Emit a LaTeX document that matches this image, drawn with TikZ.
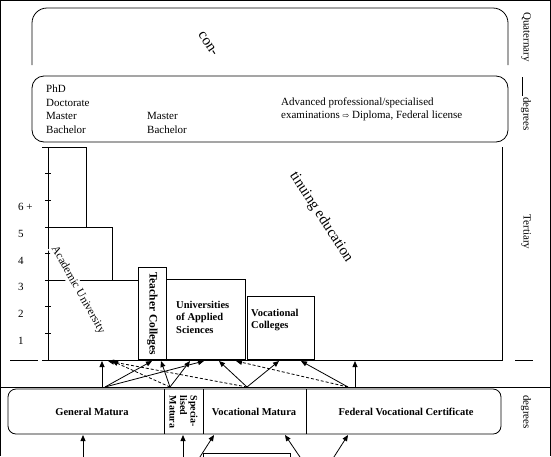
\documentclass[tikz,border=0pt]{standalone}
\usepackage{fontspec}
\setmainfont{Liberation Serif}
\newfontfamily\arrowfont{DejaVu Sans}
\usepackage{tikz}
\usetikzlibrary{arrows.meta,positioning}
\tikzset{
  line/.style={line width=0.8pt},
  box/.style={draw, line width=0.8pt},
  side/.style={rotate=-90, font=\fontsize{11}{13}\selectfont, inner sep=0pt},
  deg/.style={anchor=west, font=\fontsize{11}{13}\selectfont, inner sep=0pt},
  inst/.style={font=\fontsize{10.5}{12.3}\selectfont\bfseries, align=left, inner sep=0pt},
  cont/.style={rotate=-57, font=\fontsize{15}{17}\selectfont, inner sep=1pt},
  arrow/.style={-{Triangle[length=6pt,width=5pt]}, line width=0.8pt},
  darrow/.style={arrow, dash pattern=on 3pt off 2pt}
}

\begin{document}
\begin{tikzpicture}[x=1pt, y=-1pt]
  \useasboundingbox (0,0) rectangle (551,456);
  \clip (0,0) rectangle (551,456);
  % frame
  \draw[line] (0.5,456) -- (0.5,0.5) -- (550,0.5) -- (550,456);
  \draw[line] (0,387) -- (551,387);

  % quaternary and degrees
  \draw[line, rounded corners=15pt] (32,65) -- (32,8) -- (508,8) -- (508,65);
  \node[box, rounded corners=12pt, minimum width=476pt, minimum height=66pt] (degbox) at (270,109) {};
  \node[cont] (con) at (208,44) {con-};
  \node[deg] (phd) at (46,89) {PhD};
  \node[deg] (doc) at (46,102.5) {Doctorate};
  \node[deg] (ma1) at (46,116) {Master};
  \node[deg] (ba1) at (46,129.5) {Bachelor};
  \node[deg] (ma2) at (147,116) {Master};
  \node[deg] (ba2) at (147,129.5) {Bachelor};
  \node[deg] (adv) at (281,102.5) {Advanced professional/specialised};
  \node[deg] (exa) at (281,116) {examinations {\arrowfont\fontsize{8}{8}\selectfont ⇨} Diploma, Federal license};

  % side labels
  \node[side] (quat) at (526,37) {Quaternary};
  \draw[line] (522,77) -- (522,96);
  \node[side] (deg1) at (526,114) {degrees};
  \node[side] (tert) at (526,232) {Tertiary};
  \draw[line] (515,360) -- (533,360);
  \node[side] (deg2) at (526,412) {degrees};

  % tertiary
  \draw[line] (48,147.2) -- (48,360);
  \foreach \l in {1,...,7}
    \draw[line] (45,{360-26.6*\l}) -- (51,{360-26.6*\l});
  \foreach \l/\t in {1/1,2/2,3/3,4/4,5/5,6/6 +}
    \node[deg] at (18,{367-26.6*\l}) {\t};
  \draw[line] (10,360) -- (38,360);
  \draw[line] (42,360) -- (502,360) -- (502,147.2);
  \draw[line] (48,360) rectangle (138,280.2);
  \draw[line] (48,280.2) rectangle (112,227);
  \draw[line] (42,147.2) -- (86,147.2) -- (86,227);
  \node[rotate=-60.5, fill=white, inner sep=1pt, font=\fontsize{11.5}{13}\selectfont] (au) at (78,290) {Academic University};
  \node[box, minimum width=28pt, minimum height=92pt, anchor=south west] (tc) at (138,360) {};
  \node[inst, rotate=-90, font=\fontsize{11.5}{13}\selectfont\bfseries] at (tc) {Teacher Colleges};
  \node[box, minimum width=79pt, minimum height=79.8pt, anchor=south west] (uas) at (166,360) {};
  \node[inst, anchor=north west] at (176,301) {Universities\\of Applied\\Sciences};
  \node[box, minimum width=67pt, minimum height=63pt, anchor=south west] (vc) at (247,360) {};
  \node[inst, anchor=north west] at (251,309) {Vocational\\Colleges};
  \node[cont] (tin) at (321,217) {tinuing education};

  % maturas
  \node[box, rounded corners=8pt, minimum width=493pt, minimum height=45pt] (mat) at (254.5,411.5) {};
  \draw[line] (164,389) -- (164,434);
  \draw[line] (203,389) -- (203,434);
  \draw[line] (306,389) -- (306,434);
  \node[inst] (gm) at (92,412) {General Matura};
  \node[inst, rotate=-90, font=\fontsize{10}{10.5}\selectfont\bfseries] (sm) at (183.5,412) {Specia-\\lised\\Matura};
  \node[inst] (vm) at (254,412) {Vocational Matura};
  \node[inst] (fvc) at (406,412) {Federal Vocational Certificate};

  % connector ends
  \coordinate (s1) at (105,387);
  \coordinate (s1v) at (102,387);
  \coordinate (s2) at (170,387);
  \coordinate (s3) at (247,387);
  \coordinate (s4) at (348,387);
  \coordinate (s4v) at (355,387);
  \coordinate (au1) at (102,361);
  \coordinate (au2) at (108,361);
  \coordinate (au3) at (112,361);
  \coordinate (tc1) at (152,361);
  \coordinate (tc2) at (161,361);
  \coordinate (uas1) at (190,361);
  \coordinate (uas2) at (204,361);
  \coordinate (uas3) at (219,361);
  \coordinate (uas4) at (236,361);
  \coordinate (vc1) at (279,361);
  \coordinate (vc2) at (301,361);
  \coordinate (pe) at (355,361);

  \draw[arrow] (s1v) -- (au1);
  \draw[arrow] (s1) -- (tc1);
  \draw[arrow] (s1) -- (uas2);
  \draw[darrow] (s2) -- (au3);
  \draw[arrow] (s2) -- (tc2);
  \draw[arrow] (s2) -- (uas1);
  \draw[darrow] (s3) -- (au2);
  \draw[arrow] (s3) -- (uas3);
  \draw[arrow] (s3) -- (vc1);
  \draw[darrow] (s4) -- (uas4);
  \draw[arrow] (s4) -- (vc2);
  \draw[arrow] (s4v) -- (pe);

  % from below
  \coordinate (b1) at (83,470);
  \coordinate (b2) at (183,470);
  \coordinate (b3) at (191.6,470);
  \coordinate (b4) at (308.8,470);
  \coordinate (b5) at (325.6,470);
  \coordinate (gmb) at (83,435);
  \coordinate (smb) at (183,435);
  \coordinate (vmb1) at (214,435);
  \coordinate (vmb2) at (285,435);
  \coordinate (fvcb) at (348,435);
  \node[box, minimum width=87pt, minimum height=40pt, anchor=north west] (lsec) at (203,453) {};
  \draw[arrow] (b1) -- (gmb);
  \draw[arrow] (b2) -- (smb);
  \draw[arrow] (b3) -- (vmb1);
  \draw[arrow] (b4) -- (vmb2);
  \draw[arrow] (b5) -- (fvcb);
\end{tikzpicture}
\end{document}
